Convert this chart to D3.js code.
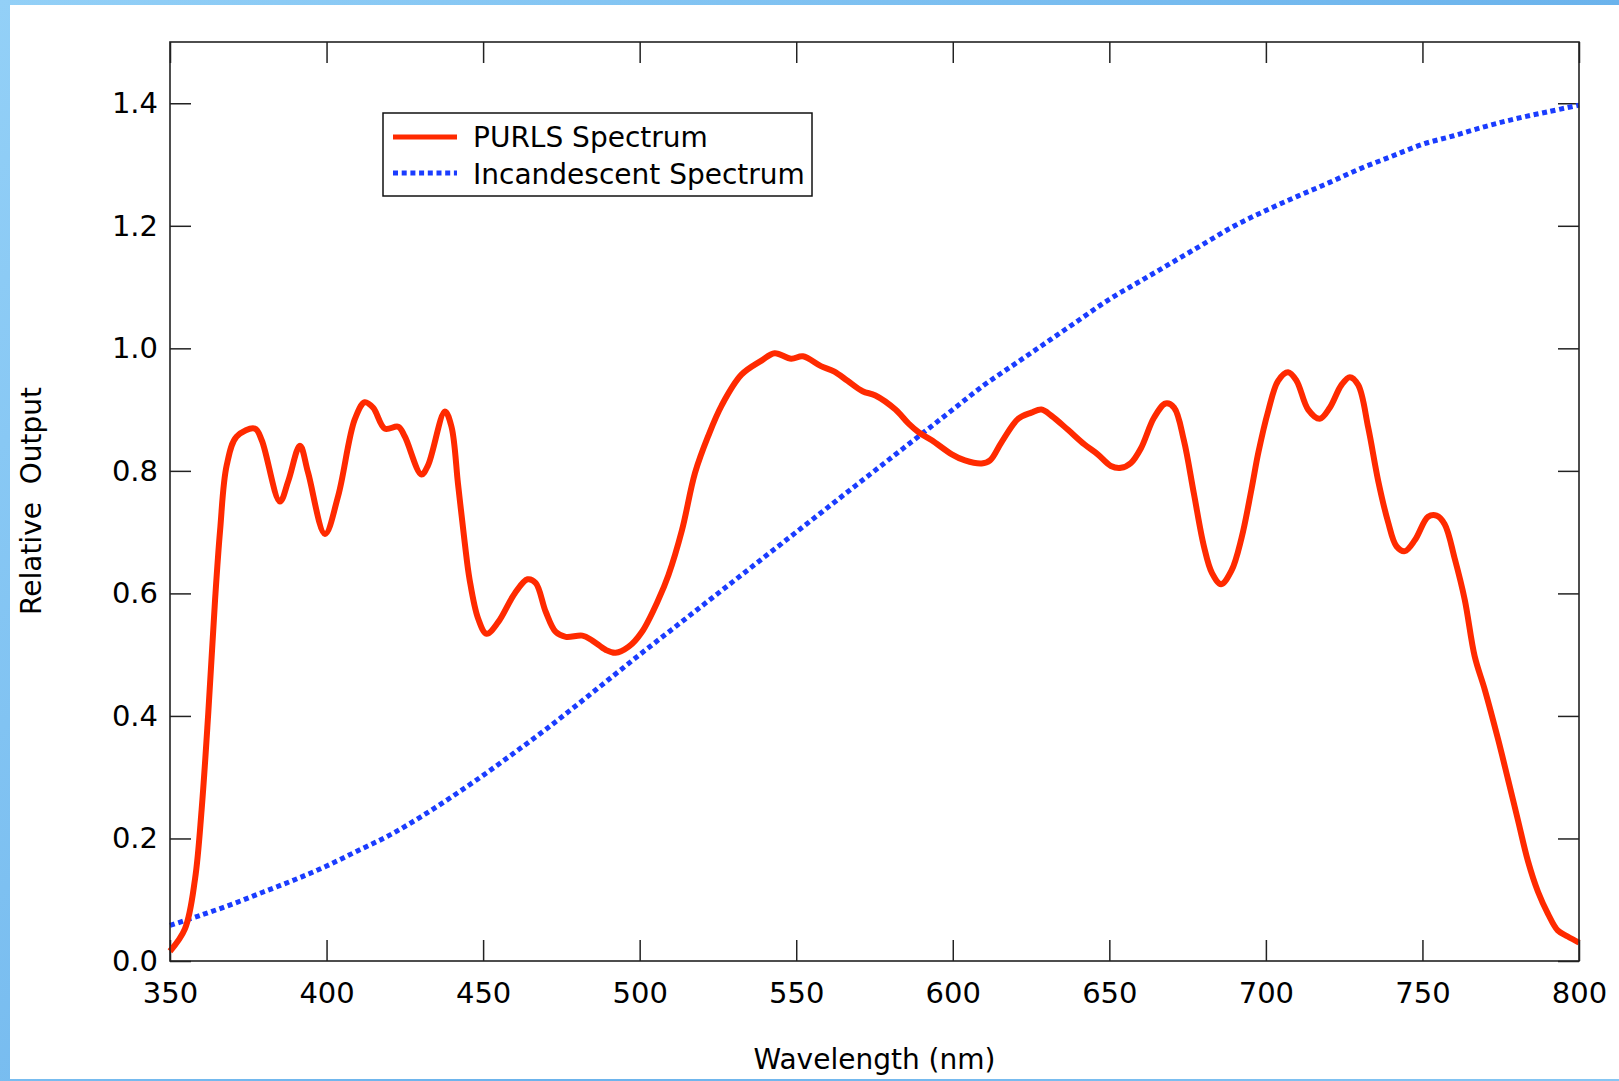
<!DOCTYPE html>
<html>
<head>
<meta charset="utf-8">
<script src="https://cdn.jsdelivr.net/npm/d3@7.9.0/dist/d3.min.js"></script>
<style>
  html, body { margin: 0; padding: 0; overflow: hidden; }
  body { width: 1619px; height: 1081px; background: linear-gradient(135deg, #93d0f7, #6bb3ec 60%, #86c6f3); }
  svg { display: block; font-family: "DejaVu Sans", Verdana, sans-serif; }
</style>
</head>
<body>
<svg id="chart" width="1619" height="1081"></svg>
<script>
// PURLS spectrum (nm, relative output)
const purlsWavelength = [350, 354.8, 358, 360.1, 362.2, 364.4, 366, 368.1, 371.3, 377.1, 379.3, 385.1, 387.8, 391.5, 394.1,
  399.5, 403.7, 409, 412.2, 414.9, 418.6, 422.9, 425, 430.3, 432.4, 437.8, 439.9, 442, 444.1, 445.7, 448.4, 451.1,
  454.8, 460.1, 464.2, 466.8, 470, 473.2, 476.4, 481.7, 484.9, 489.1, 492.3, 496.5, 500.7, 506, 509.2, 513.5,
  517.7, 521.9, 526.2, 532.5, 538.9, 543.1, 548.4, 552.1, 557.9, 562.2, 566.4, 571.2, 575.3, 581.7, 585.9,
  589.1, 593.3, 599.7, 603.9, 609.2, 611.9, 615.6, 620.9, 625.1, 628.3, 631.5, 636.8, 642.1, 646.3, 650.5,
  653.7, 656.9, 660.1, 664.3, 668, 670.7, 673.8, 677, 680.2, 682.8, 685.7, 689, 692.2, 695.4, 697.6, 700.7,
  703.9, 707.1, 709.8, 713.5, 717.2, 720.4, 724.1, 726.8, 729.5, 732.7, 735.9, 739, 741.7, 744.4, 747.6,
  751.8, 754.5, 757.1, 760.3, 763.5, 766.7, 769.9, 774.1, 777.3, 780.5, 783.7, 786.9, 790.1, 793.2, 796.4, 800];
const purlsOutput = [0.016, 0.053, 0.134, 0.247, 0.403, 0.59, 0.703, 0.809, 0.856, 0.869, 0.85, 0.75, 0.784, 0.841, 0.797,
  0.697, 0.759, 0.884, 0.912, 0.903, 0.869, 0.872, 0.856, 0.794, 0.809, 0.897, 0.872, 0.778, 0.684, 0.622, 0.559, 0.534,
  0.553, 0.6, 0.623, 0.617, 0.57, 0.537, 0.529, 0.531, 0.523, 0.508, 0.503, 0.513, 0.537, 0.59, 0.63, 0.703,
  0.797, 0.857, 0.907, 0.957, 0.98, 0.992, 0.983, 0.987, 0.971, 0.962, 0.947, 0.93, 0.923, 0.9, 0.877,
  0.863, 0.85, 0.827, 0.817, 0.812, 0.817, 0.847, 0.885, 0.895, 0.9, 0.89, 0.867, 0.843, 0.827, 0.808,
  0.805, 0.813, 0.837, 0.887, 0.91, 0.903, 0.85, 0.763, 0.677, 0.633, 0.615, 0.637, 0.69, 0.77, 0.83, 0.897,
  0.947, 0.961, 0.947, 0.9, 0.885, 0.903, 0.94, 0.953, 0.94, 0.87, 0.783, 0.717, 0.677, 0.669, 0.687,
  0.725, 0.727, 0.713, 0.657, 0.59, 0.497, 0.443, 0.363, 0.297, 0.23, 0.163, 0.113, 0.077, 0.05, 0.04, 0.03];

// Incandescent spectrum, every 10 nm
const incWavelength = d3.range(350, 801, 10);
const incOutput = [0.058, 0.075, 0.093, 0.113, 0.133, 0.155, 0.18, 0.205, 0.235, 0.268, 0.303, 0.34, 0.378, 0.418, 0.459,
  0.5, 0.54, 0.58, 0.62, 0.66, 0.7, 0.74, 0.78, 0.82, 0.86, 0.9, 0.94, 0.975, 1.01, 1.045, 1.08, 1.11, 1.14, 1.17,
  1.2, 1.225, 1.248, 1.27, 1.293, 1.313, 1.333, 1.347, 1.362, 1.375, 1.386, 1.397];

const xTicks = d3.range(350, 801, 50);
const yTicks = d3.range(0, 1.41, 0.2);
const seriesNames = ['PURLS Spectrum', 'Incandescent Spectrum'];

const RED = '#ff2a00';
const BLUE = '#1a3cff';
const FONT = '"DejaVu Sans", Verdana, sans-serif';

const svg = d3.select('#chart');

// white page over the blue frame
svg.append('rect')
  .attr('x', 10).attr('y', 5)
  .attr('width', 1609).attr('height', 1074)
  .attr('fill', '#fff');

const m = { left: 170, top: 42, right: 1579, bottom: 961 };

const x = d3.scaleLinear().domain([350, 800]).range([m.left, m.right]);
const y = d3.scaleLinear().domain([0, 1.5]).range([m.bottom, m.top]);

const tickLen = 21;

function styleAxis(g) {
  g.attr('font-family', FONT).attr('font-size', 29);
  g.select('.domain').remove();
  g.selectAll('.tick line').attr('stroke', '#222').attr('stroke-width', 1.5);
  g.selectAll('.tick text').attr('fill', '#000');
}

svg.append('g')
  .attr('transform', `translate(0,${m.bottom})`)
  .call(d3.axisBottom(x).tickValues(xTicks).tickSize(-tickLen).tickPadding(42).tickFormat(d3.format('d')))
  .call(styleAxis)
  .call(g => g.selectAll('.tick text').attr('dy', '0'));

svg.append('g')
  .attr('transform', `translate(0,${m.top})`)
  .call(d3.axisTop(x).tickValues(xTicks).tickSize(-tickLen).tickFormat(''))
  .call(styleAxis);

svg.append('g')
  .attr('transform', `translate(${m.left},0)`)
  .call(d3.axisLeft(y).tickValues(yTicks).tickSize(-tickLen).tickPadding(12).tickFormat(d3.format('.1f')))
  .call(styleAxis);

svg.append('g')
  .attr('transform', `translate(${m.right},0)`)
  .call(d3.axisRight(y).tickValues(yTicks).tickSize(-tickLen).tickFormat(''))
  .call(styleAxis);

// the curves
const line = d3.line()
  .x(d => x(d[0]))
  .y(d => y(d[1]))
  .curve(d3.curveCatmullRom.alpha(0.5));

svg.append('path')
  .datum(d3.zip(incWavelength, incOutput))
  .attr('d', line)
  .attr('fill', 'none')
  .attr('stroke', BLUE)
  .attr('stroke-width', 5)
  .attr('stroke-dasharray', '5 3.7');

svg.append('path')
  .datum(d3.zip(purlsWavelength, purlsOutput))
  .attr('d', line)
  .attr('fill', 'none')
  .attr('stroke', RED)
  .attr('stroke-width', 6)
  .attr('stroke-linejoin', 'round');

// plot frame
svg.append('rect')
  .attr('x', m.left).attr('y', m.top)
  .attr('width', m.right - m.left).attr('height', m.bottom - m.top)
  .attr('fill', 'none')
  .attr('stroke', '#222')
  .attr('stroke-width', 1.6);

// axis titles
svg.append('text')
  .attr('x', (m.left + m.right) / 2)
  .attr('y', 1069)
  .attr('text-anchor', 'middle')
  .style('font-size', '28px')
  .text('Wavelength (nm)');

svg.append('text')
  .attr('transform', 'translate(41,501) rotate(-90)')
  .attr('text-anchor', 'middle')
  .style('font-size', '28px')
  .style('white-space', 'pre')
  .text('Relative  Output');

// legend
const legend = svg.append('g');
legend.append('rect')
  .attr('x', 383).attr('y', 113)
  .attr('width', 429).attr('height', 83)
  .attr('fill', '#fff')
  .attr('stroke', '#111')
  .attr('stroke-width', 1.5);

const legendRows = [
  { name: seriesNames[0], color: RED, dash: null, width: 5, ly: 137, ty: 147 },
  { name: seriesNames[1], color: BLUE, dash: '5 3.7', width: 5, ly: 173, ty: 184 }
];

legendRows.forEach(r => {
  legend.append('line')
    .attr('x1', 393).attr('x2', 457)
    .attr('y1', r.ly).attr('y2', r.ly)
    .attr('stroke', r.color)
    .attr('stroke-width', r.width)
    .attr('stroke-dasharray', r.dash);
  legend.append('text')
    .attr('x', 473).attr('y', r.ty)
    .style('font-size', '28px')
    .text(r.name);
});
</script>
</body>
</html>
